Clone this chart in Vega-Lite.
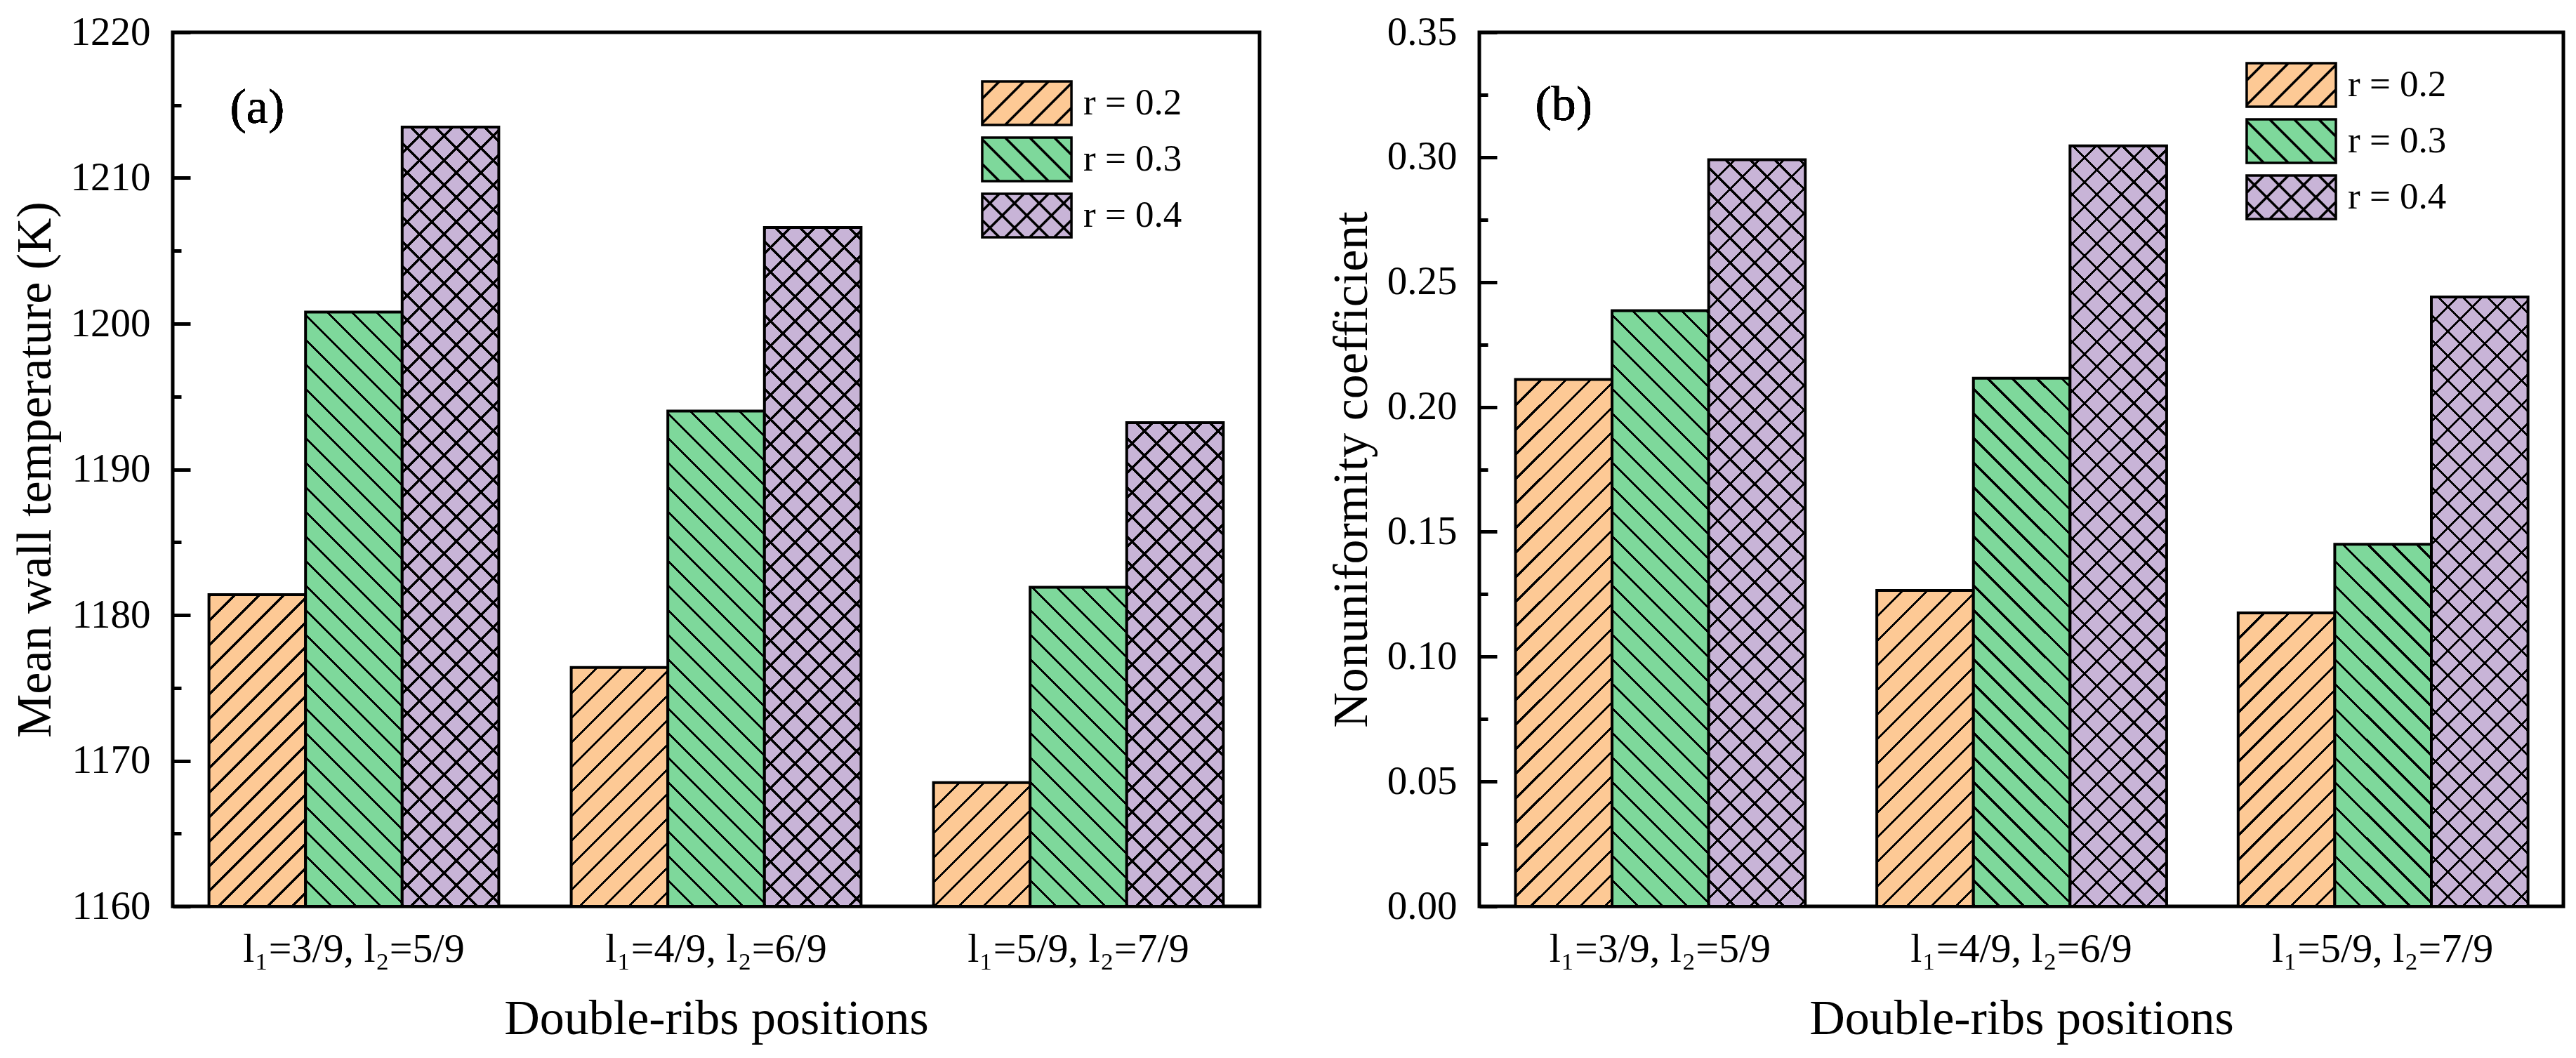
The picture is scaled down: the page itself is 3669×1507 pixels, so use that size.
{
  "$schema": "https://vega.github.io/schema/vega-lite/v6.json",
  "padding": {"left": 12, "top": 14, "right": 5, "bottom": 5},
  "background": "white",
  "spacing": 90,
  "params": [
    {
      "name": "hatch",
      "value": [
        {"offset":0,"color":"#000"},{"offset":0.0032,"color":"#000"},{"offset":0.0032,"color":"transparent"},
        {"offset":0.025,"color":"transparent"},{"offset":0.025,"color":"#000"},{"offset":0.0282,"color":"#000"},{"offset":0.0282,"color":"transparent"},
        {"offset":0.05,"color":"transparent"},{"offset":0.05,"color":"#000"},{"offset":0.0532,"color":"#000"},{"offset":0.0532,"color":"transparent"},
        {"offset":0.075,"color":"transparent"},{"offset":0.075,"color":"#000"},{"offset":0.0782,"color":"#000"},{"offset":0.0782,"color":"transparent"},
        {"offset":0.1,"color":"transparent"},{"offset":0.1,"color":"#000"},{"offset":0.1032,"color":"#000"},{"offset":0.1032,"color":"transparent"},
        {"offset":0.125,"color":"transparent"},{"offset":0.125,"color":"#000"},{"offset":0.1282,"color":"#000"},{"offset":0.1282,"color":"transparent"},
        {"offset":0.15,"color":"transparent"},{"offset":0.15,"color":"#000"},{"offset":0.1532,"color":"#000"},{"offset":0.1532,"color":"transparent"},
        {"offset":0.175,"color":"transparent"},{"offset":0.175,"color":"#000"},{"offset":0.1782,"color":"#000"},{"offset":0.1782,"color":"transparent"},
        {"offset":0.2,"color":"transparent"},{"offset":0.2,"color":"#000"},{"offset":0.2032,"color":"#000"},{"offset":0.2032,"color":"transparent"},
        {"offset":0.225,"color":"transparent"},{"offset":0.225,"color":"#000"},{"offset":0.2282,"color":"#000"},{"offset":0.2282,"color":"transparent"},
        {"offset":0.25,"color":"transparent"},{"offset":0.25,"color":"#000"},{"offset":0.2532,"color":"#000"},{"offset":0.2532,"color":"transparent"},
        {"offset":0.275,"color":"transparent"},{"offset":0.275,"color":"#000"},{"offset":0.2782,"color":"#000"},{"offset":0.2782,"color":"transparent"},
        {"offset":0.3,"color":"transparent"},{"offset":0.3,"color":"#000"},{"offset":0.3032,"color":"#000"},{"offset":0.3032,"color":"transparent"},
        {"offset":0.325,"color":"transparent"},{"offset":0.325,"color":"#000"},{"offset":0.3282,"color":"#000"},{"offset":0.3282,"color":"transparent"},
        {"offset":0.35,"color":"transparent"},{"offset":0.35,"color":"#000"},{"offset":0.3532,"color":"#000"},{"offset":0.3532,"color":"transparent"},
        {"offset":0.375,"color":"transparent"},{"offset":0.375,"color":"#000"},{"offset":0.3782,"color":"#000"},{"offset":0.3782,"color":"transparent"},
        {"offset":0.4,"color":"transparent"},{"offset":0.4,"color":"#000"},{"offset":0.4032,"color":"#000"},{"offset":0.4032,"color":"transparent"},
        {"offset":0.425,"color":"transparent"},{"offset":0.425,"color":"#000"},{"offset":0.4282,"color":"#000"},{"offset":0.4282,"color":"transparent"},
        {"offset":0.45,"color":"transparent"},{"offset":0.45,"color":"#000"},{"offset":0.4532,"color":"#000"},{"offset":0.4532,"color":"transparent"},
        {"offset":0.475,"color":"transparent"},{"offset":0.475,"color":"#000"},{"offset":0.4782,"color":"#000"},{"offset":0.4782,"color":"transparent"},
        {"offset":0.5,"color":"transparent"},{"offset":0.5,"color":"#000"},{"offset":0.5032,"color":"#000"},{"offset":0.5032,"color":"transparent"},
        {"offset":0.525,"color":"transparent"},{"offset":0.525,"color":"#000"},{"offset":0.5282,"color":"#000"},{"offset":0.5282,"color":"transparent"},
        {"offset":0.55,"color":"transparent"},{"offset":0.55,"color":"#000"},{"offset":0.5532,"color":"#000"},{"offset":0.5532,"color":"transparent"},
        {"offset":0.575,"color":"transparent"},{"offset":0.575,"color":"#000"},{"offset":0.5782,"color":"#000"},{"offset":0.5782,"color":"transparent"},
        {"offset":0.6,"color":"transparent"},{"offset":0.6,"color":"#000"},{"offset":0.6032,"color":"#000"},{"offset":0.6032,"color":"transparent"},
        {"offset":0.625,"color":"transparent"},{"offset":0.625,"color":"#000"},{"offset":0.6282,"color":"#000"},{"offset":0.6282,"color":"transparent"},
        {"offset":0.65,"color":"transparent"},{"offset":0.65,"color":"#000"},{"offset":0.6532,"color":"#000"},{"offset":0.6532,"color":"transparent"},
        {"offset":0.675,"color":"transparent"},{"offset":0.675,"color":"#000"},{"offset":0.6782,"color":"#000"},{"offset":0.6782,"color":"transparent"},
        {"offset":0.7,"color":"transparent"},{"offset":0.7,"color":"#000"},{"offset":0.7032,"color":"#000"},{"offset":0.7032,"color":"transparent"},
        {"offset":0.725,"color":"transparent"},{"offset":0.725,"color":"#000"},{"offset":0.7282,"color":"#000"},{"offset":0.7282,"color":"transparent"},
        {"offset":0.75,"color":"transparent"},{"offset":0.75,"color":"#000"},{"offset":0.7532,"color":"#000"},{"offset":0.7532,"color":"transparent"},
        {"offset":0.775,"color":"transparent"},{"offset":0.775,"color":"#000"},{"offset":0.7782,"color":"#000"},{"offset":0.7782,"color":"transparent"},
        {"offset":0.8,"color":"transparent"},{"offset":0.8,"color":"#000"},{"offset":0.8032,"color":"#000"},{"offset":0.8032,"color":"transparent"},
        {"offset":0.825,"color":"transparent"},{"offset":0.825,"color":"#000"},{"offset":0.8282,"color":"#000"},{"offset":0.8282,"color":"transparent"},
        {"offset":0.85,"color":"transparent"},{"offset":0.85,"color":"#000"},{"offset":0.8532,"color":"#000"},{"offset":0.8532,"color":"transparent"},
        {"offset":0.875,"color":"transparent"},{"offset":0.875,"color":"#000"},{"offset":0.8782,"color":"#000"},{"offset":0.8782,"color":"transparent"},
        {"offset":0.9,"color":"transparent"},{"offset":0.9,"color":"#000"},{"offset":0.9032,"color":"#000"},{"offset":0.9032,"color":"transparent"},
        {"offset":0.925,"color":"transparent"},{"offset":0.925,"color":"#000"},{"offset":0.9282,"color":"#000"},{"offset":0.9282,"color":"transparent"},
        {"offset":0.95,"color":"transparent"},{"offset":0.95,"color":"#000"},{"offset":0.9532,"color":"#000"},{"offset":0.9532,"color":"transparent"},
        {"offset":0.975,"color":"transparent"},{"offset":0.975,"color":"#000"},{"offset":0.9782,"color":"#000"},{"offset":0.9782,"color":"transparent"},
        {"offset":1,"color":"transparent"}
      ]
    }
  ],
  "datasets": {
    "temp": [
      {"pos": "l₁=3/9, l₂=5/9", "r": "0.2", "v": 1181.4},
      {"pos": "l₁=3/9, l₂=5/9", "r": "0.3", "v": 1200.8},
      {"pos": "l₁=3/9, l₂=5/9", "r": "0.4", "v": 1213.5},
      {"pos": "l₁=4/9, l₂=6/9", "r": "0.2", "v": 1176.4},
      {"pos": "l₁=4/9, l₂=6/9", "r": "0.3", "v": 1194.0},
      {"pos": "l₁=4/9, l₂=6/9", "r": "0.4", "v": 1206.6},
      {"pos": "l₁=5/9, l₂=7/9", "r": "0.2", "v": 1168.5},
      {"pos": "l₁=5/9, l₂=7/9", "r": "0.3", "v": 1181.9},
      {"pos": "l₁=5/9, l₂=7/9", "r": "0.4", "v": 1193.2}
    ],
    "nonu": [
      {"pos": "l₁=3/9, l₂=5/9", "r": "0.2", "v": 0.211},
      {"pos": "l₁=3/9, l₂=5/9", "r": "0.3", "v": 0.2385},
      {"pos": "l₁=3/9, l₂=5/9", "r": "0.4", "v": 0.299},
      {"pos": "l₁=4/9, l₂=6/9", "r": "0.2", "v": 0.1265},
      {"pos": "l₁=4/9, l₂=6/9", "r": "0.3", "v": 0.2115},
      {"pos": "l₁=4/9, l₂=6/9", "r": "0.4", "v": 0.3045},
      {"pos": "l₁=5/9, l₂=7/9", "r": "0.2", "v": 0.1175},
      {"pos": "l₁=5/9, l₂=7/9", "r": "0.3", "v": 0.145},
      {"pos": "l₁=5/9, l₂=7/9", "r": "0.4", "v": 0.244}
    ]
  },
  "hconcat": [
    {
      "width": 1548,
      "height": 1245,
      "data": {"name": "temp"},
      "resolve": {"axis": {"y": "independent"}},
      "layer": [
        {
          "mark": {"type": "bar", "stroke": "black", "strokeWidth": 4},
          "encoding": {
            "x": {
              "field": "pos", "type": "nominal", "sort": null,
              "scale": {"paddingInner": 0.2, "paddingOuter": 0.1},
              "axis": {
                "title": "Double-ribs positions", "titleFontSize": 70, "titlePadding": 36,
                "labelFontSize": 58, "labelAngle": 0, "labelLimit": 0, "tickSize": -22, "tickWidth": 5, "labelPadding": 54
              }
            },
            "xOffset": {"field": "r", "type": "nominal", "sort": null},
            "y": {
              "field": "v", "type": "quantitative",
              "scale": {"domain": [1160, 1220], "nice": false, "zero": false},
              "axis": {
                "values": [1160, 1170, 1180, 1190, 1200, 1210, 1220], "format": "d",
                "labelFontSize": 57, "tickSize": -25, "tickWidth": 5, "labelPadding": 57,
                "title": "Mean wall temperature (K)", "titleFontSize": 70, "titlePadding": 14
              }
            },
            "y2": {"datum": 1160},
            "fill": {
              "field": "r", "type": "nominal",
              "scale": {"domain": ["0.2", "0.3", "0.4"], "range": ["#FDC995", "#7ED89B", "#C8B4D7"]},
              "legend": {
                "orient": "none", "legendX": 1183.5, "legendY": 68, "title": null, "padding": 0,
                "symbolSize": 3844, "symbolStrokeWidth": 3.5, "symbolStrokeColor": "black",
                "labelFontSize": 53, "labelOffset": 47.5, "rowPadding": 4,
                "labelExpr": "'r = ' + datum.label",
                "encode": {
                  "symbols": {
                    "update": {
                      "shape": {"signal": "datum.value === '0.2' ? 'M-2.05,-1H2.05V1H-2.05Z M-2.05,-0.21L-1.26,-1 M-2.05,0.92L-0.13,-1 M-1,1L1,-1 M0.13,1L2.05,-0.92 M1.26,1L2.05,0.21' : datum.value === '0.3' ? 'M-2.05,-1H2.05V1H-2.05Z M-2.05,0.21L-1.26,1 M-2.05,-0.92L-0.13,1 M-1,-1L1,1 M0.13,-1L2.05,0.92 M1.26,-1L2.05,-0.21' : 'M-2.05,-1H2.05V1H-2.05Z M-2.05,-0.21L-1.26,-1 M-2.05,0.92L-0.13,-1 M-1,1L1,-1 M0.13,1L2.05,-0.92 M1.26,1L2.05,0.21 M-2.05,0.21L-1.26,1 M-2.05,-0.92L-0.13,1 M-1,-1L1,1 M0.13,-1L2.05,0.92 M1.26,-1L2.05,-0.21'"},
                      "stroke": {"value": "black"},
                      "strokeWidth": {"value": 3.5}
                    }
                  }
                }
              }
            }
          }
        },
        {
          "mark": {"type": "bar", "strokeWidth": 0},
          "encoding": {
            "x": {"field": "pos", "type": "nominal", "sort": null},
            "xOffset": {"field": "r", "type": "nominal", "sort": null},
            "y": {
              "field": "v", "type": "quantitative",
              "axis": {
                "orient": "left", "values": [1165, 1175, 1185, 1195, 1205, 1215],
                "labels": false, "tickSize": -12, "tickWidth": 5, "title": null
              }
            },
            "y2": {"datum": 1160},
            "fill": {"value": {"expr": "datum.r === '0.3' ? {gradient:'linear',x1:0,y1:1,x2:192640/(18934+pow((datum.v-1160)*20.75,2)),y2:1-1400*(datum.v-1160)*20.75/(18934+pow((datum.v-1160)*20.75,2)),stops:hatch} : {gradient:'linear',x1:0,y1:0,x2:192640/(18934+pow((datum.v-1160)*20.75,2)),y2:1400*(datum.v-1160)*20.75/(18934+pow((datum.v-1160)*20.75,2)),stops:hatch}"}}
          }
        },
        {
          "transform": [{"filter": "datum.r === '0.4'"}],
          "mark": {"type": "bar", "strokeWidth": 0},
          "encoding": {
            "x": {"field": "pos", "type": "nominal", "sort": null},
            "xOffset": {"field": "r", "type": "nominal", "sort": null},
            "y": {"field": "v", "type": "quantitative", "axis": null},
            "y2": {"datum": 1160},
            "fill": {"value": {"expr": "{gradient:'linear',x1:0,y1:1,x2:192640/(18934+pow((datum.v-1160)*20.75,2)),y2:1-1400*(datum.v-1160)*20.75/(18934+pow((datum.v-1160)*20.75,2)),stops:hatch}"}}
          }
        },
        {
          "mark": {"type": "text", "fontSize": 70, "font": "Liberation Serif", "align": "center", "baseline": "middle"},
          "encoding": {
            "x": {"datum": "l₁=3/9, l₂=5/9"},
            "xOffset": {"datum": "0.2"},
            "y": {"datum": 1214.8, "axis": null},
            "text": {"value": "(a)"}
          }
        }
      ]
    },
    {
      "width": 1544,
      "height": 1245,
      "data": {"name": "nonu"},
      "resolve": {"axis": {"y": "independent"}},
      "layer": [
        {
          "mark": {"type": "bar", "stroke": "black", "strokeWidth": 4},
          "encoding": {
            "x": {
              "field": "pos", "type": "nominal", "sort": null,
              "scale": {"paddingInner": 0.2, "paddingOuter": 0.1},
              "axis": {
                "title": "Double-ribs positions", "titleFontSize": 70, "titlePadding": 36,
                "labelFontSize": 58, "labelAngle": 0, "labelLimit": 0, "tickSize": -22, "tickWidth": 5, "labelPadding": 54
              }
            },
            "xOffset": {"field": "r", "type": "nominal", "sort": null},
            "y": {
              "field": "v", "type": "quantitative",
              "scale": {"domain": [0, 0.35], "nice": false},
              "axis": {
                "values": [0, 0.05, 0.1, 0.15, 0.2, 0.25, 0.3, 0.35], "format": ".2f",
                "labelFontSize": 57, "tickSize": -25, "tickWidth": 5, "labelPadding": 57,
                "title": "Nonuniformity coefficient", "titleFontSize": 70, "titlePadding": 14
              }
            },
            "y2": {"datum": 0},
            "fill": {
              "field": "r", "type": "nominal",
              "scale": {"domain": ["0.2", "0.3", "0.4"], "range": ["#FDC995", "#7ED89B", "#C8B4D7"]},
              "legend": {
                "orient": "none", "legendX": 1123.5, "legendY": 42, "title": null, "padding": 0,
                "symbolSize": 3844, "symbolStrokeWidth": 3.5, "symbolStrokeColor": "black",
                "labelFontSize": 53, "labelOffset": 47.5, "rowPadding": 4,
                "labelExpr": "'r = ' + datum.label",
                "encode": {
                  "symbols": {
                    "update": {
                      "shape": {"signal": "datum.value === '0.2' ? 'M-2.05,-1H2.05V1H-2.05Z M-2.05,-0.21L-1.26,-1 M-2.05,0.92L-0.13,-1 M-1,1L1,-1 M0.13,1L2.05,-0.92 M1.26,1L2.05,0.21' : datum.value === '0.3' ? 'M-2.05,-1H2.05V1H-2.05Z M-2.05,0.21L-1.26,1 M-2.05,-0.92L-0.13,1 M-1,-1L1,1 M0.13,-1L2.05,0.92 M1.26,-1L2.05,-0.21' : 'M-2.05,-1H2.05V1H-2.05Z M-2.05,-0.21L-1.26,-1 M-2.05,0.92L-0.13,-1 M-1,1L1,-1 M0.13,1L2.05,-0.92 M1.26,1L2.05,0.21 M-2.05,0.21L-1.26,1 M-2.05,-0.92L-0.13,1 M-1,-1L1,1 M0.13,-1L2.05,0.92 M1.26,-1L2.05,-0.21'"},
                      "stroke": {"value": "black"},
                      "strokeWidth": {"value": 3.5}
                    }
                  }
                }
              }
            }
          }
        },
        {
          "mark": {"type": "bar", "strokeWidth": 0},
          "encoding": {
            "x": {"field": "pos", "type": "nominal", "sort": null},
            "xOffset": {"field": "r", "type": "nominal", "sort": null},
            "y": {
              "field": "v", "type": "quantitative",
              "axis": {
                "orient": "left", "values": [0.025, 0.075, 0.125, 0.175, 0.225, 0.275, 0.325],
                "labels": false, "tickSize": -12, "tickWidth": 5, "title": null
              }
            },
            "y2": {"datum": 0},
            "fill": {"value": {"expr": "datum.r === '0.3' ? {gradient:'linear',x1:0,y1:1,x2:192136/(18835+pow(datum.v*3557.14,2)),y2:1-1400*datum.v*3557.14/(18835+pow(datum.v*3557.14,2)),stops:hatch} : {gradient:'linear',x1:0,y1:0,x2:192136/(18835+pow(datum.v*3557.14,2)),y2:1400*datum.v*3557.14/(18835+pow(datum.v*3557.14,2)),stops:hatch}"}}
          }
        },
        {
          "transform": [{"filter": "datum.r === '0.4'"}],
          "mark": {"type": "bar", "strokeWidth": 0},
          "encoding": {
            "x": {"field": "pos", "type": "nominal", "sort": null},
            "xOffset": {"field": "r", "type": "nominal", "sort": null},
            "y": {"field": "v", "type": "quantitative", "axis": null},
            "y2": {"datum": 0},
            "fill": {"value": {"expr": "{gradient:'linear',x1:0,y1:1,x2:192136/(18835+pow(datum.v*3557.14,2)),y2:1-1400*datum.v*3557.14/(18835+pow(datum.v*3557.14,2)),stops:hatch}"}}
          }
        },
        {
          "mark": {"type": "text", "fontSize": 70, "font": "Liberation Serif", "align": "center", "baseline": "middle"},
          "encoding": {
            "x": {"datum": "l₁=3/9, l₂=5/9"},
            "xOffset": {"datum": "0.2"},
            "y": {"datum": 0.3208, "axis": null},
            "text": {"value": "(b)"}
          }
        }
      ]
    }
  ],
  "resolve": {"scale": {"fill": "independent"}, "legend": {"fill": "independent"}},
  "config": {
    "font": "Liberation Serif",
    "view": {"stroke": "black", "strokeWidth": 5},
    "axis": {
      "labelFont": "Liberation Serif", "titleFont": "Liberation Serif",
      "labelColor": "black", "titleColor": "black", "tickColor": "black",
      "titleFontWeight": "normal", "grid": false, "domain": false, "zindex": 1
    },
    "legend": {"labelFont": "Liberation Serif", "labelColor": "black"}
  }
}
